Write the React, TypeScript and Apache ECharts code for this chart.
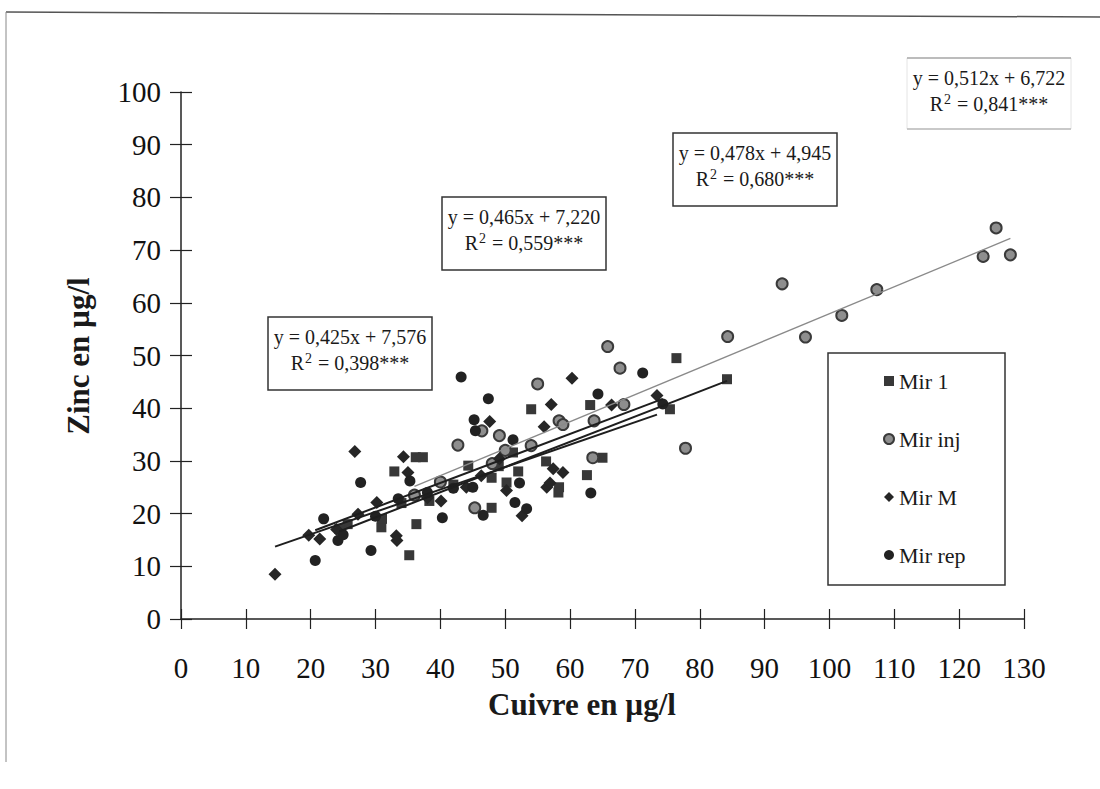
import React, { useEffect, useRef } from 'react';
import * as echarts from 'echarts';

// ---- data (Cuivre µg/l, Zinc µg/l) ----
const seriesNames = ['Mir 1', 'Mir inj', 'Mir M', 'Mir rep'];

const mir1: number[][] = [
  [76.4, 49.5], [84.2, 45.5], [75.4, 39.8], [63.1, 40.6], [54.0, 39.8], [65.0, 30.6],
  [62.6, 27.3], [58.2, 24.0], [58.3, 25.0], [56.3, 29.9], [51.2, 31.6], [50.2, 25.9],
  [47.9, 26.8], [44.3, 29.1], [47.9, 21.1], [36.2, 30.7], [37.3, 30.7], [32.9, 28.0],
  [30.9, 17.4], [36.3, 18.0], [35.2, 12.1], [25.7, 18.0], [24.4, 17.1], [49.0, 29.0],
  [52.0, 28.0], [42.0, 25.5], [38.3, 22.4], [31.0, 19.0], [34.0, 22.0],
];
const mirInj: number[][] = [
  [125.7, 74.2], [123.7, 68.8], [127.9, 69.1], [107.3, 62.5], [101.9, 57.6], [96.3, 53.5],
  [92.7, 63.6], [84.3, 53.6], [77.8, 32.4], [67.7, 47.6], [65.8, 51.7], [68.3, 40.7],
  [63.7, 37.6], [58.3, 37.6], [58.9, 36.9], [55.0, 44.6], [54.0, 32.9], [49.1, 34.8],
  [46.4, 35.7], [42.7, 33.0], [45.3, 21.1], [63.5, 30.6], [40.0, 26.0], [48.0, 29.5],
  [36.0, 23.5], [50.0, 32.0],
];
const mirM: number[][] = [
  [14.5, 8.5], [19.7, 15.9], [21.4, 15.2], [26.8, 31.8], [34.3, 30.8], [35.0, 27.8],
  [30.2, 22.1], [27.3, 19.9], [33.2, 15.8], [33.3, 14.9], [40.1, 22.4], [46.3, 27.2],
  [47.6, 37.5], [49.1, 30.4], [50.2, 24.4], [52.6, 19.6], [56.0, 36.5], [57.1, 40.7],
  [60.3, 45.7], [66.4, 40.6], [73.4, 42.4], [57.4, 28.5], [58.9, 27.8], [56.4, 25.0],
  [56.9, 25.8], [44.0, 25.0], [38.0, 23.0], [24.0, 17.0],
];
const mirRep: number[][] = [
  [20.7, 11.1], [22.0, 19.0], [24.2, 14.9], [27.7, 25.9], [29.3, 13.0], [33.5, 22.8],
  [35.3, 26.2], [40.3, 19.2], [43.2, 45.9], [45.2, 37.8], [45.4, 35.7], [47.4, 41.8],
  [51.2, 34.0], [52.2, 25.8], [51.5, 22.1], [53.3, 20.9], [46.6, 19.7], [63.2, 23.9],
  [64.3, 42.7], [71.2, 46.7], [74.3, 40.8], [42.0, 24.8], [45.0, 25.0], [38.0, 24.0],
  [30.0, 19.5], [25.0, 16.0],
];

// regression fits, same order as seriesNames
const fitSlope = [0.478, 0.512, 0.425, 0.465];
const fitIntercept = [4.945, 6.722, 7.576, 7.22];
const fitR2 = [0.68, 0.841, 0.398, 0.559];

const allData = [mir1, mirInj, mirM, mirRep];

// ---- layout / style ----
const FONT = '"Liberation Serif", "Times New Roman", serif';
const symbols = ['rect', 'circle', 'diamond', 'circle'];
const symbolSizes = [10, 11, 13, 11];
const fills = ['#383838', '#8e8e8e', '#262626', '#222222'];
const borders = ['#383838', '#3a3a3a', '#262626', '#222222'];
const borderWidths = [0, 2, 0, 0];
const lineColors = ['#1e1e1e', '#8a8a8a', '#1e1e1e', '#1e1e1e'];
const lineWidths = [2, 1.3, 2, 2];
// equation box top-left corners, same order as seriesNames
const boxPos = [[673, 133], [907, 58], [268, 317], [442, 197]];
const BOX_W = 164;
const BOX_H = 73;

const fmt = (v: number) => v.toFixed(3).replace('.', ',');

export default function App() {
  const ref = useRef<HTMLDivElement>(null);
  useEffect(() => {
    if (!ref.current) return;
    const chart = echarts.init(ref.current, null, { renderer: 'svg' });

    const scatterSeries = allData.map((d, i) => ({
      name: seriesNames[i],
      type: 'scatter',
      data: d,
      symbol: symbols[i],
      symbolSize: symbolSizes[i],
      itemStyle: { color: fills[i], borderColor: borders[i], borderWidth: borderWidths[i], opacity: 1 },
      z: 2,
    }));

    const lineSeries = allData.map((d, i) => {
      const xs = d.map((p) => p[0]);
      const x0 = Math.min(...xs);
      const x1 = Math.max(...xs);
      return {
        name: 'fit ' + seriesNames[i],
        type: 'line',
        data: [
          [x0, fitSlope[i] * x0 + fitIntercept[i]],
          [x1, fitSlope[i] * x1 + fitIntercept[i]],
        ],
        symbol: 'none',
        lineStyle: { color: lineColors[i], width: lineWidths[i] },
        z: 3,
        silent: true,
      };
    });

    const eqGraphics: any[] = [];
    boxPos.forEach((pos, i) => {
      const [bx, by] = pos;
      if (i === 1) {
        eqGraphics.push({ type: 'rect', shape: { x: bx, y: by, width: BOX_W, height: BOX_H - 2 }, style: { fill: '#fff', stroke: '#e4e4e4', lineWidth: 1 } });
        eqGraphics.push({ type: 'line', shape: { x1: bx, y1: by, x2: bx + BOX_W, y2: by }, style: { stroke: '#aaa', lineWidth: 1.5 } });
        eqGraphics.push({ type: 'line', shape: { x1: bx, y1: by + BOX_H - 2, x2: bx + BOX_W, y2: by + BOX_H - 2 }, style: { stroke: '#bbb', lineWidth: 1.5 } });
      } else {
        eqGraphics.push({ type: 'rect', shape: { x: bx, y: by, width: BOX_W, height: BOX_H }, style: { fill: '#fff', stroke: '#333', lineWidth: 1.5 } });
      }
      eqGraphics.push({
        type: 'text', x: bx + BOX_W / 2, y: by + 20,
        style: { text: `y = ${fmt(fitSlope[i])}x + ${fmt(fitIntercept[i])}`, font: `20px ${FONT}`, fill: '#1a1a1a', align: 'center', verticalAlign: 'middle' },
        z: 10,
      });
      eqGraphics.push({
        type: 'text', x: bx + BOX_W / 2, y: by + 46,
        style: {
          text: `{a|R}{b|2}{a| = ${fmt(fitR2[i])}***}`,
          rich: {
            a: { fontFamily: FONT, fontSize: 20, fill: '#1a1a1a' },
            b: { fontFamily: FONT, fontSize: 14, fill: '#1a1a1a', padding: [0, 1, 10, 1] },
          },
          align: 'center', verticalAlign: 'middle',
        },
        z: 10,
      });
    });

    const axisLineStyle = { color: '#222', width: 1.5 };
    const tickLineStyle = { color: '#222', width: 1.2 };

    chart.setOption({
      animation: false,
      backgroundColor: '#fff',
      grid: { left: 181, top: 92, width: 843, height: 527, containLabel: false },
      xAxis: [
        {
          type: 'value', min: 0, max: 130, interval: 10,
          axisLine: { show: true, lineStyle: axisLineStyle },
          axisTick: { show: true, inside: false, length: 10, lineStyle: tickLineStyle },
          axisLabel: { fontFamily: FONT, fontSize: 29, color: '#111', margin: 34 },
          splitLine: { show: false },
        },
        {
          type: 'value', min: 0, max: 130, interval: 10, position: 'bottom',
          axisLine: { show: false },
          axisTick: { show: true, inside: true, length: 10, lineStyle: tickLineStyle },
          axisLabel: { show: false },
          splitLine: { show: false },
        },
      ],
      yAxis: [
        {
          type: 'value', min: 0, max: 100, interval: 10,
          axisLine: { show: true, lineStyle: axisLineStyle },
          axisTick: { show: true, inside: false, length: 11, lineStyle: tickLineStyle },
          axisLabel: { fontFamily: FONT, fontSize: 29, color: '#111', margin: 20 },
          splitLine: { show: false },
        },
        {
          type: 'value', min: 0, max: 100, interval: 10, position: 'left',
          axisLine: { show: false },
          axisTick: { show: true, inside: true, length: 11, lineStyle: tickLineStyle },
          axisLabel: { show: false },
          splitLine: { show: false },
        },
      ],
      legend: {
        data: seriesNames,
        orient: 'vertical',
        left: 878,
        top: 364,
        itemWidth: 10,
        itemHeight: 10,
        itemGap: 34,
        textStyle: { fontFamily: FONT, fontSize: 22, color: '#1a1a1a', lineHeight: 24 },
      },
      graphic: [
        { type: 'line', shape: { x1: 6, y1: 12, x2: 1100, y2: 17 }, style: { stroke: '#555', lineWidth: 1.5 } },
        { type: 'line', shape: { x1: 6, y1: 12, x2: 6, y2: 762 }, style: { stroke: '#888', lineWidth: 1 } },
        { type: 'rect', shape: { x: 828, y: 353, width: 177, height: 232 }, style: { fill: 'rgba(0,0,0,0)', stroke: '#333', lineWidth: 1.5 }, z: 1 },
        ...eqGraphics,
        {
          type: 'text', x: 582, y: 704,
          style: { text: 'Cuivre en µg/l', font: `bold 31px ${FONT}`, fill: '#1a1a1a', align: 'center', verticalAlign: 'middle' },
        },
        {
          type: 'text', x: 78, y: 356, rotation: Math.PI / 2,
          style: { text: 'Zinc en µg/l', font: `bold 31px ${FONT}`, fill: '#1a1a1a', align: 'center', verticalAlign: 'middle' },
        },
      ],
      series: [...scatterSeries, ...lineSeries],
    });

    return () => chart.dispose();
  }, []);

  return <div ref={ref} style={{ position: 'absolute', left: 0, top: 0, width: 1100, height: 789, background: '#fff' }} />;
}
